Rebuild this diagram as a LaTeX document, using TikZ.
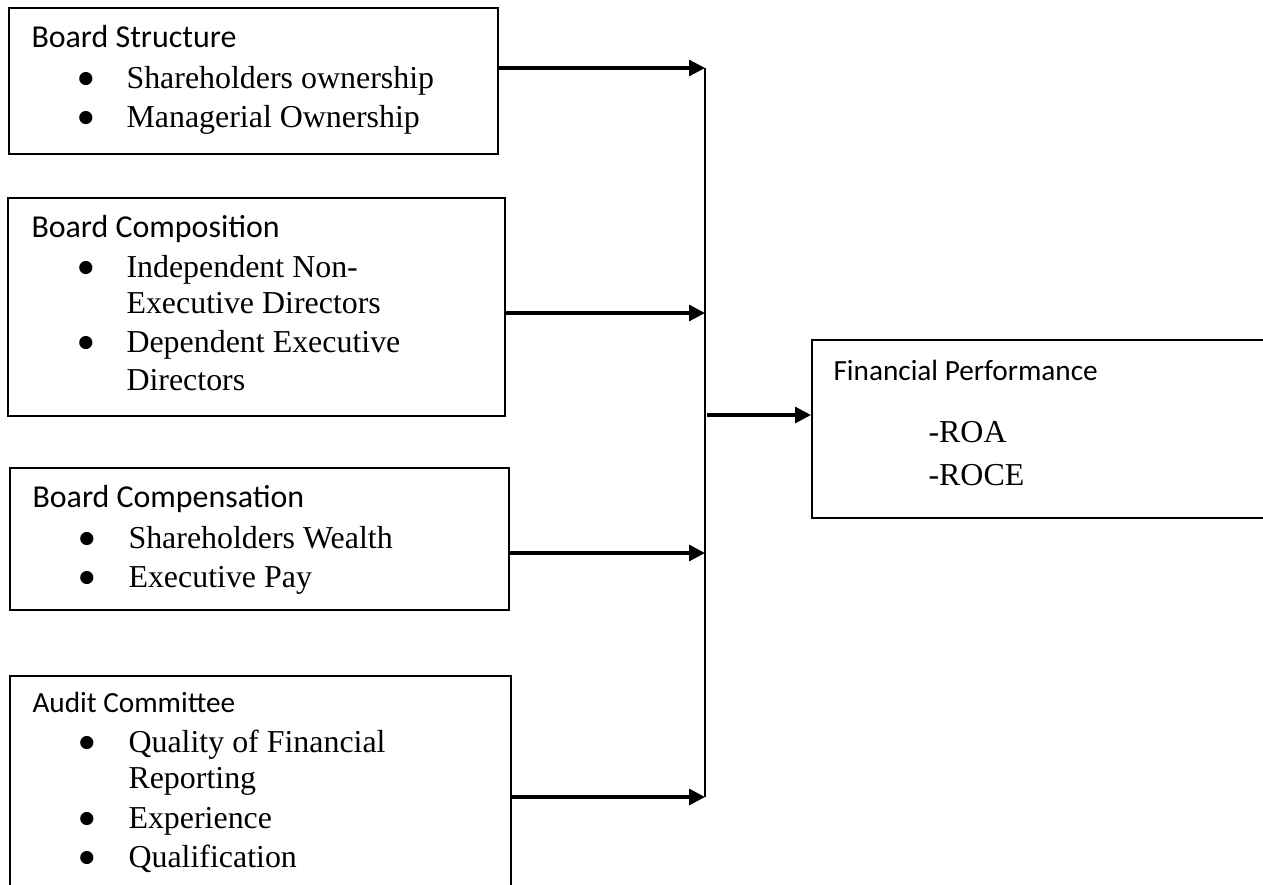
\documentclass[tikz,border=0pt]{standalone}
\usepackage{fontspec}
\setmainfont{Liberation Serif}
\newfontfamily\headfont{Carlito}
\newfontfamily\symfont{DejaVu Sans}
\usetikzlibrary{arrows.meta}

\def\px{0.376pt}

\begin{document}
\begin{tikzpicture}[x=\px,y=-\px,>={Triangle[length=6pt,width=6pt]},
		box/.style={draw,line width=0.8pt,anchor=north west,inner sep=0pt},
		head/.style={anchor=base west,inner sep=0pt,font=\headfont\fontsize{12}{14}\selectfont},
		smallhead/.style={head,font=\headfont\fontsize{11}{13}\selectfont},
		item/.style={anchor=base west,inner sep=0pt,font=\fontsize{12}{14}\selectfont},
		dot/.style={anchor=center,inner sep=0pt,yshift=9*\px,font=\symfont\fontsize{6.5}{7}\selectfont},
		link/.style={->,line width=1.2pt},
		bus/.style={line width=0.75pt},
		]
		\useasboundingbox (0,0) rectangle (1263,884);
		
		% Kaestchen
		\node[box,minimum width={489*\px},minimum height={146*\px}] (bs) at (8,7) {};
		\node[box,minimum width={497*\px},minimum height={218*\px}] (bc) at (7,197) {};
		\node[box,minimum width={499*\px},minimum height={142*\px}] (bp) at (9,467) {};
		\node[box,minimum width={501*\px},minimum height={225*\px}] (ac) at (9,675) {};
		\node[box,minimum width={470*\px},minimum height={178*\px}] (fp) at (811,339) {};
		
		% Board Structure
		\node[head] (bsh) at (31,47) {Board Structure};
		\node[dot] (bsd1) at (86,88) {●};
		\node[item] (bs1) at (126,88) {Shareholders ownership};
		\node[dot] (bsd2) at (86,127) {●};
		\node[item] (bs2) at (126,127) {Managerial Ownership};
		
		% Board Composition
		\node[head] (bch) at (31,237) {Board Composition};
		\node[dot] (bcd1) at (86,277) {●};
		\node[item] (bc1) at (126,277) {Independent Non-};
		\node[item] (bc1b) at (126,313) {Executive Directors};
		\node[dot] (bcd2) at (86,352) {●};
		\node[item] (bc2) at (126,352) {Dependent Executive};
		\node[item] (bc2b) at (126,390) {Directors};
		
		% Board Compensation
		\node[head] (bph) at (32,507) {Board Compensation};
		\node[dot] (bpd1) at (87,548) {●};
		\node[item] (bp1) at (128,548) {Shareholders Wealth};
		\node[dot] (bpd2) at (87,587) {●};
		\node[item] (bp2) at (128,587) {Executive Pay};
		
		% Audit Committee
		\node[smallhead] (ach) at (32,712) {Audit Committee};
		\node[dot] (acd1) at (87,752) {●};
		\node[item] (ac1) at (128,752) {Quality of Financial};
		\node[item] (ac1b) at (128,788) {Reporting};
		\node[dot] (acd2) at (87,828) {●};
		\node[item] (ac2) at (128,828) {Experience};
		\node[dot] (acd3) at (87,867) {●};
		\node[item] (ac3) at (128,867) {Qualification};
		
		% Financial Performance
		\node[smallhead] (fph) at (833,380) {Financial Performance};
		\node[item] (fp1) at (928,442) {-ROA};
		\node[item] (fp2) at (928,485) {-ROCE};
		
		% Sammelleitung
		\coordinate (t1) at (705,68);
		\coordinate (t2) at (705,313);
		\coordinate (t3) at (705,553);
		\coordinate (t4) at (705,797);
		\coordinate (m) at (707,415);
		\draw[bus] (t1) -- (t4);
		
		\draw[link] (bs.east |- t1) -- (t1);
		\draw[link] (bc.east |- t2) -- (t2);
		\draw[link] (bp.east |- t3) -- (t3);
		\draw[link] (ac.east |- t4) -- (t4);
		\draw[link] (m) -- (fp.west |- m);
	\end{tikzpicture}
\end{document}
